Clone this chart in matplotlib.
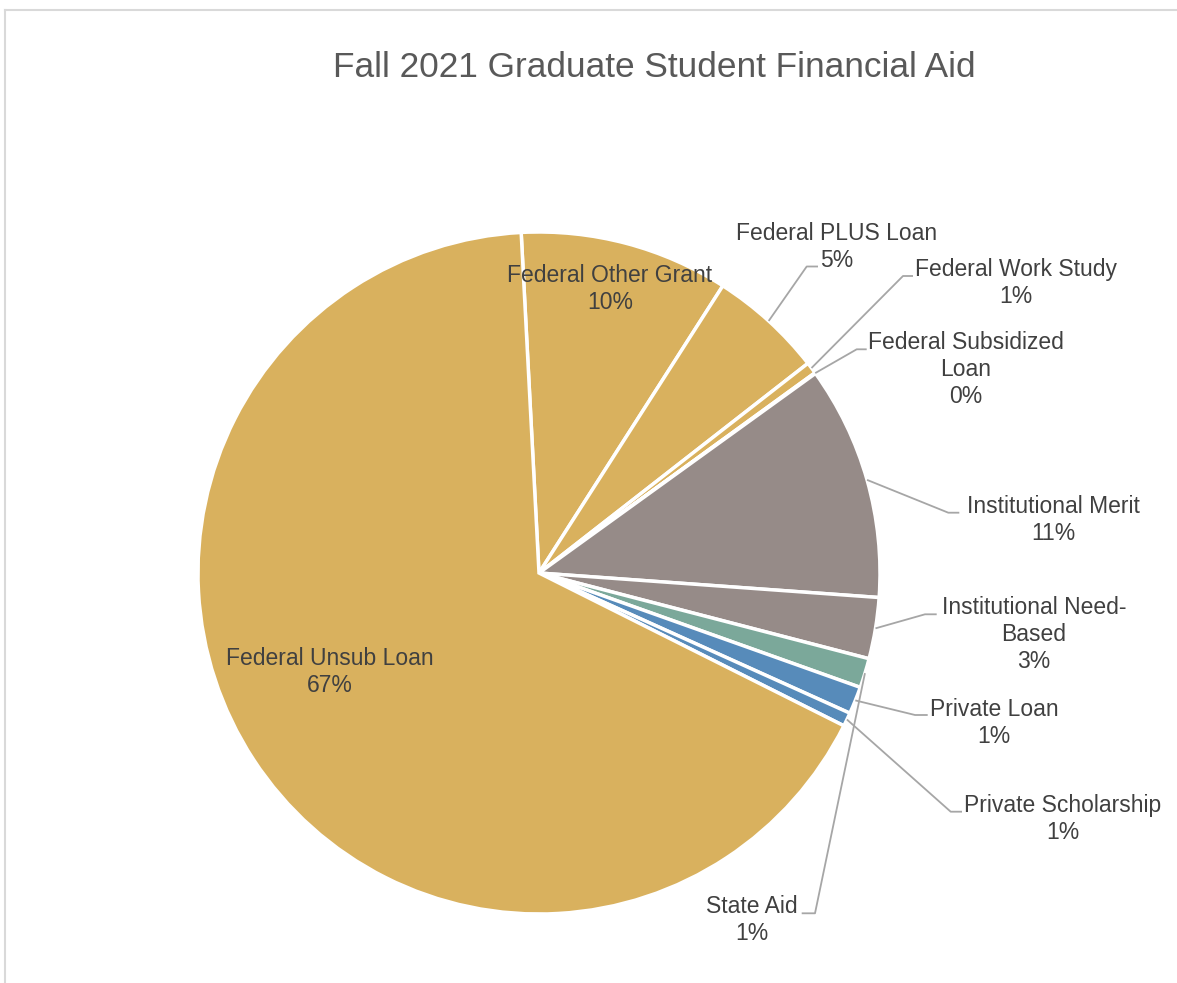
import math

import matplotlib
matplotlib.use("Agg")
import matplotlib.pyplot as plt
from matplotlib.lines import Line2D

plt.rcParams["font.family"] = ["Liberation Sans", "DejaVu Sans"]

# ---- data -------------------------------------------------------------
title = "Fall 2021 Graduate Student Financial Aid"
categories = [
    "Federal Other Grant", "Federal PLUS Loan", "Federal Work Study",
    "Federal Subsidized Loan", "Institutional Merit", "Institutional Need-Based",
    "State Aid", "Private Loan", "Private Scholarship", "Federal Unsub Loan",
]
shares = [9.9, 5.4, 0.55, 0.04, 11.1, 2.9, 1.4, 1.3, 0.65, 66.8]

# ---- styling ----------------------------------------------------------
GOLD, MAUVE, TEAL, BLUE = "#D9B15E", "#968B88", "#7BA89A", "#578BBA"
slice_colors = [GOLD, GOLD, GOLD, GOLD, MAUVE, MAUVE, TEAL, BLUE, BLUE, GOLD]
TEXT = "#404040"
LEADER = "#A6A6A6"

# wrapped names used in the data labels
wrapped = {
    "Federal Subsidized Loan": "Federal Subsidized\nLoan",
    "Institutional Need-Based": "Institutional Need-\nBased",
}

W, H, DPI = 1177, 983, 100
CX, CY, R = 539, 573, 341          # pie centre / radius in pixels (top-left origin)
PAD = 1.2                          # axes half-width in radii
LINE_PX = 26.7                     # baseline-to-baseline distance of label lines

# label placement in pixels: (block centre x, first-line baseline y, leader)
# leader = (elbow x, end x, y) or None for labels drawn inside the slice
label_layout = {
    "Federal Other Grant":      (610, 282, None),
    "Federal PLUS Loan":        (837, 240, (806.7, 818, 266.5)),
    "Federal Work Study":       (1016, 276, (903, 913, 276)),
    "Federal Subsidized Loan":  (966, 350, (856.7, 866.7, 349.3)),
    "Institutional Merit":      (1053, 513, (948.3, 959.3, 512.7)),
    "Institutional Need-Based": (1034, 615, (925, 936.7, 614.3)),
    "State Aid":                (752, 913, (815, 801.7, 913.3)),
    "Private Loan":             (994, 716, (915, 927.7, 715)),
    "Private Scholarship":      (1063, 812, (950.7, 962, 811.7)),
    "Federal Unsub Loan":       (330, 665, None),
}


def to_data(x, y):
    """Pixel position (top-left origin) -> pie data coordinates."""
    return (x - CX) / R, (CY - y) / R


fig = plt.figure(figsize=(W / DPI, H / DPI), dpi=DPI)
fig.patch.set_facecolor("white")
ax = fig.add_axes([(CX - PAD * R) / W, (H - CY - PAD * R) / H,
                   2 * PAD * R / W, 2 * PAD * R / H])

wedges, _ = ax.pie(
    shares, colors=slice_colors, startangle=93, counterclock=False, radius=1,
    wedgeprops=dict(edgecolor="white", linewidth=2.5),
)
ax.set_xlim(-PAD, PAD)
ax.set_ylim(-PAD, PAD)
ax.set_aspect("equal")
ax.axis("off")

total = sum(shares)
for name, value, wedge in zip(categories, shares, wedges):
    pct = f"{round(value / total * 100):.0f}%"
    text = f"{wrapped.get(name, name)}\n{pct}"
    n_lines = text.count("\n") + 1
    cx_px, base_px, leader = label_layout[name]
    # va="baseline" anchors the last line, so shift down to it
    tx, ty = to_data(cx_px, base_px + (n_lines - 1) * LINE_PX)
    ax.text(tx, ty, text, ha="center", va="baseline", multialignment="center",
            fontsize=16.5, linespacing=1.23, color=TEXT, clip_on=False)
    if leader is not None:
        ang = math.radians((wedge.theta1 + wedge.theta2) / 2)
        sx, sy = math.cos(ang), math.sin(ang)
        ex, ey = to_data(leader[0], leader[2])
        fx, fy = to_data(leader[1], leader[2])
        ax.plot([sx, ex, fx], [sy, ey, fy], color=LEADER, lw=1.3,
                solid_capstyle="butt", clip_on=False)

fig.text(654 / W, 1 - 76.7 / H, title, ha="center", va="baseline",
         fontsize=25.4, color="#595959")

# chart-area border (top and left edges visible)
border = dict(color="#D9D9D9", lw=1.5, transform=fig.transFigure)
fig.add_artist(Line2D([5 / W, 5 / W], [0, 1 - 10 / H], **border))
fig.add_artist(Line2D([5 / W, 1], [1 - 10 / H, 1 - 10 / H], **border))

fig.savefig("out.png", dpi=DPI, facecolor="white")
